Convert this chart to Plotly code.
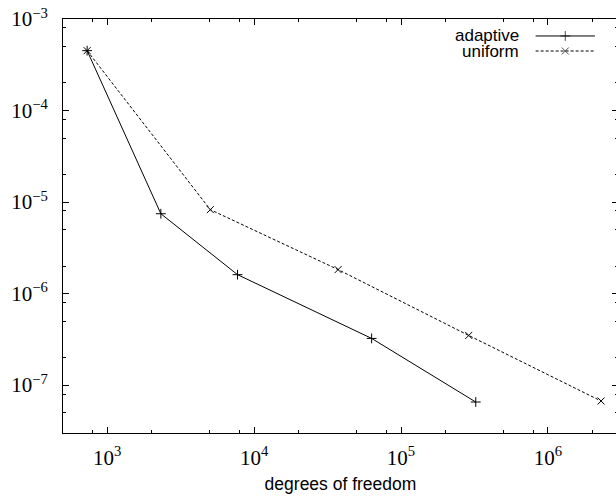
import plotly.graph_objects as go
import numpy as np

# Data
adaptive_dofs = [730, 2318, 7709, 63100, 322700]
adaptive_err = [4.51e-4, 7.46e-6, 1.61e-6, 3.24e-7, 6.54e-8]
uniform_dofs = [730, 5035, 37300, 289000, 2300000]
uniform_err = [4.51e-4, 8.26e-6, 1.83e-6, 3.49e-7, 6.71e-8]

series_names = ["adaptive", "uniform"]
x_title = "degrees of freedom"

x_major = [1e3, 1e4, 1e5, 1e6]
x_major_text = ["10<sup>3</sup>", "10<sup>4</sup>", "10<sup>5</sup>", "10<sup>6</sup>"]
y_major = [1e-7, 1e-6, 1e-5, 1e-4, 1e-3]
y_major_text = ["10<sup>−7</sup>", "10<sup>−6</sup>", "10<sup>−5</sup>", "10<sup>−4</sup>", "10<sup>−3</sup>"]
minor_mult = [2, 5, 8]
x_minor = [m * 10.0**e for e in range(2, 7) for m in minor_mult]
y_minor = [m * 10.0**e for e in range(-8, -2) for m in minor_mult]

x_range = [500, 3e6]
y_range = [3e-8, 1e-3]

SANS = "Liberation Sans"
SERIF = "Liberation Serif"

fig = go.Figure()

fig.add_trace(go.Scatter(
    x=adaptive_dofs, y=adaptive_err, mode="lines+markers", name=series_names[0],
    line=dict(color="black", width=1),
    marker=dict(symbol="cross-thin", size=7, line=dict(color="black", width=1)),
    showlegend=False,
))
fig.add_trace(go.Scatter(
    x=uniform_dofs, y=uniform_err, mode="lines+markers", name=series_names[1],
    line=dict(color="black", width=1, dash="3px,2px"),
    marker=dict(symbol="x-thin", size=7, line=dict(color="black", width=1)),
    showlegend=False,
))

# Legend keys (gnuplot style: text on the left, sample on the right)
key_x = [0.8516, 0.905, 0.9584]
key_y = [0.959, 0.9227]
fig.add_trace(go.Scatter(
    x=key_x, y=[key_y[0]] * 3, xaxis="x2", yaxis="y2", mode="lines+markers",
    line=dict(color="black", width=1),
    marker=dict(symbol="cross-thin", size=[0, 7, 0], line=dict(color="black", width=1)),
    showlegend=False, hoverinfo="skip",
))
fig.add_trace(go.Scatter(
    x=key_x, y=[key_y[1]] * 3, xaxis="x2", yaxis="y2", mode="lines+markers",
    line=dict(color="black", width=1, dash="3px,2px"),
    marker=dict(symbol="x-thin", size=[0, 7, 0], line=dict(color="black", width=1)),
    showlegend=False, hoverinfo="skip",
))
for name, yy in zip(series_names, key_y):
    fig.add_annotation(x=0.825, y=yy, xref="paper", yref="paper", text=name,
                       showarrow=False, xanchor="right", yanchor="middle",
                       font=dict(family=SANS, size=17, color="black"))

axis_common = dict(
    type="log", showgrid=False, zeroline=False, showline=True, linecolor="black",
    linewidth=1, mirror="allticks", ticks="inside", ticklen=6, tickwidth=1,
    tickcolor="black", tickfont=dict(family=SERIF, size=21, color="black"),
    automargin=False, ticklabeloverflow="allow",
)

# The figure is 1px wider than the window so the right border falls just outside it.
fig.update_layout(
    width=618, height=498,
    margin=dict(l=63, r=0, t=19, b=65, autoexpand=False),
    paper_bgcolor="white", plot_bgcolor="white",
    xaxis=dict(
        **axis_common,
        range=[np.log10(x_range[0]), np.log10(x_range[1])],
        tickmode="array", tickvals=x_major, ticktext=x_major_text,
        minor=dict(tickmode="array", tickvals=x_minor, ticks="inside", ticklen=3,
                   tickcolor="black", tickwidth=1),
        ticklabelstandoff=6,
        title=dict(text=x_title, font=dict(family=SANS, size=17.5, color="black"), standoff=8),
    ),
    yaxis=dict(
        **axis_common,
        range=[np.log10(y_range[0]), np.log10(y_range[1])],
        tickmode="array", tickvals=y_major, ticktext=y_major_text,
        minor=dict(tickmode="array", tickvals=y_minor, ticks="inside", ticklen=3,
                   tickcolor="black", tickwidth=1),
        ticklabelstandoff=10,
    ),
    xaxis2=dict(overlaying="x", range=[0, 1], visible=False, fixedrange=True),
    yaxis2=dict(overlaying="y", range=[0, 1], visible=False, fixedrange=True),
    showlegend=False,
)

# Remove the default page margin so the figure sits at the window's top-left corner.
fig.write_html(
    "out.html",
    config={"displayModeBar": False},
    post_script="document.body.style.margin='0';document.body.style.overflow='hidden';",
)
